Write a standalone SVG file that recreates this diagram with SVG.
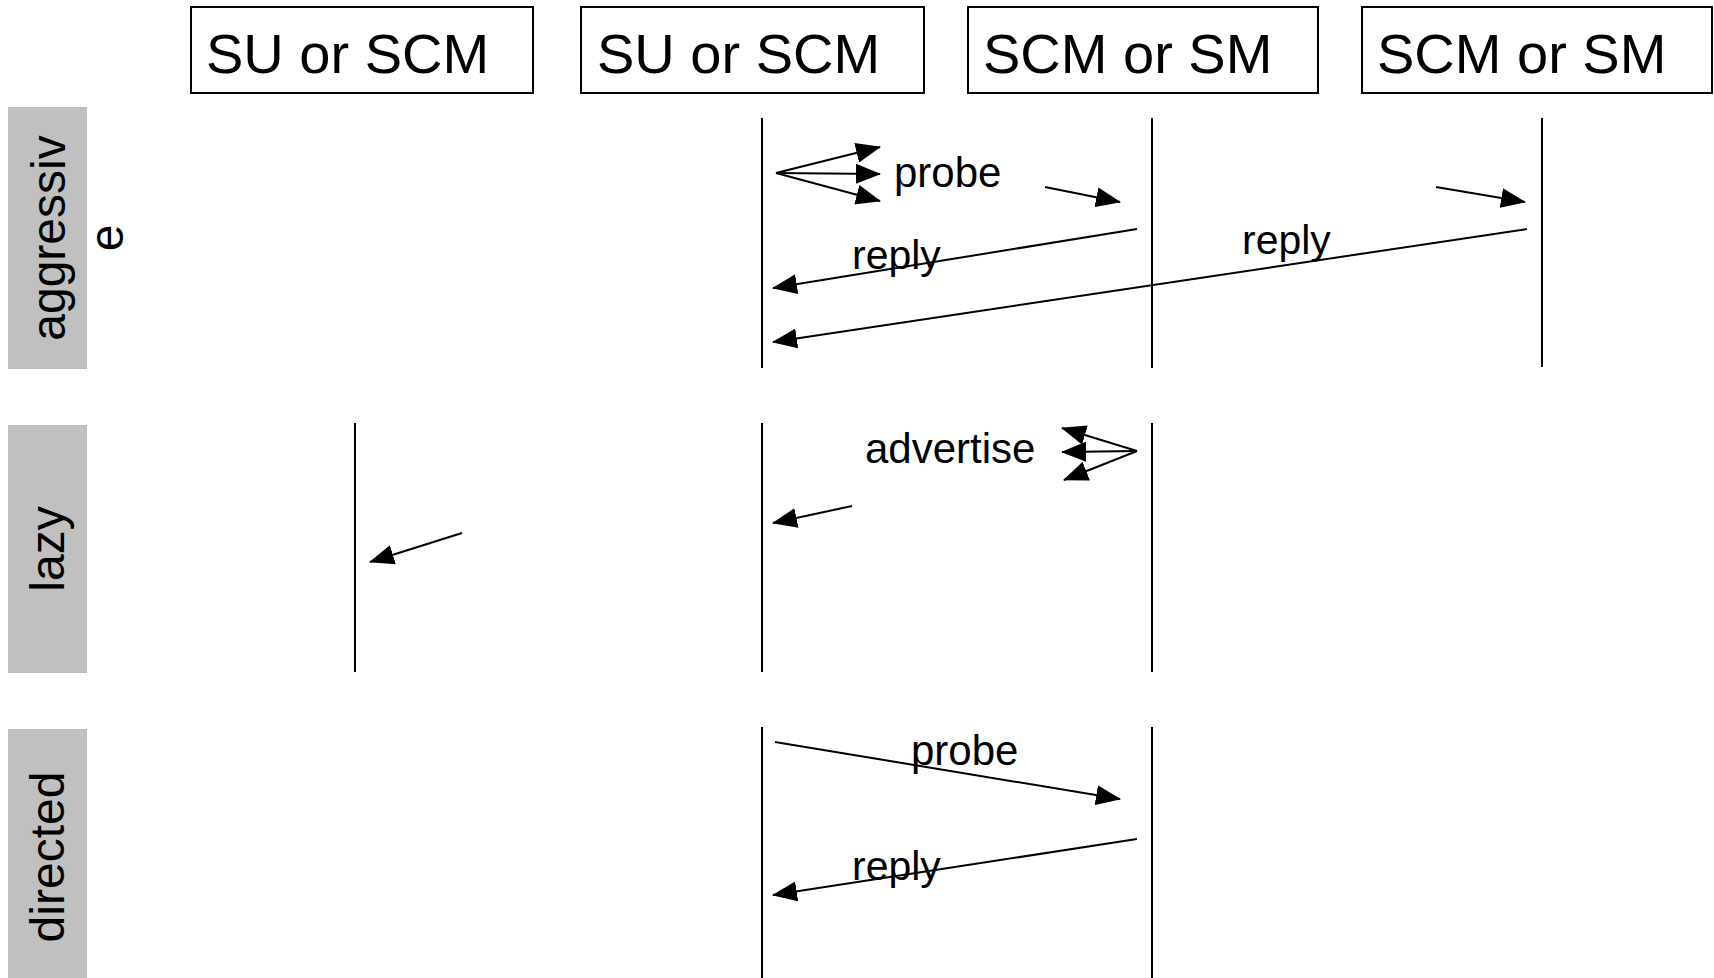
<svg xmlns="http://www.w3.org/2000/svg" width="1714" height="978" viewBox="0 0 1714 978">
  <style>
    .box { fill: #ffffff; stroke: #000000; stroke-width: 2; }
    .hdr { font-family: "Liberation Sans", Arial, sans-serif; font-size: 56px; fill: #000000; }
    .band { fill: #c0c0c0; }
    .band-t { font-family: "Liberation Sans", Arial, sans-serif; font-size: 48px; fill: #000000; text-anchor: middle; }
    .life { stroke: #000000; stroke-width: 2; fill: none; }
    .msg { stroke: #000000; stroke-width: 2; fill: none; marker-end: url(#ah); }
    .lbl { font-family: "Liberation Sans", Arial, sans-serif; font-size: 41px; fill: #000000; }
    .lbl-w { font-size: 42px; }
  </style>
  <defs>
    <marker id="ah" markerUnits="userSpaceOnUse" viewBox="0 0 25 20" refX="24" refY="10" markerWidth="25" markerHeight="20" orient="auto">
      <path d="M0,0 L25,10 L0,20 Z" fill="#000000"/>
    </marker>
  </defs>

  <rect width="1714" height="978" fill="#ffffff"/>

  <!-- scenario bands on the left -->
  <g id="band-aggressive">
    <rect class="band" x="8" y="107" width="79" height="262"/>
    <text class="band-t" transform="translate(65,238) rotate(-90)"><tspan x="0" y="0">aggressiv</tspan><tspan x="0" dy="58">e</tspan></text>
  </g>
  <g id="band-lazy">
    <rect class="band" x="8" y="425" width="79" height="248"/>
    <text class="band-t" transform="translate(64,549) rotate(-90)">lazy</text>
  </g>
  <g id="band-directed">
    <rect class="band" x="8" y="729" width="79" height="249"/>
    <text class="band-t" transform="translate(64,857) rotate(-90)">directed</text>
  </g>

  <!-- participants with their lifelines -->
  <g id="participant-1">
    <rect class="box" x="191" y="7" width="342" height="86"/>
    <text class="hdr" x="206" y="73">SU or SCM</text>
    <line class="life" x1="355" y1="423" x2="355" y2="672"/>
  </g>
  <g id="participant-2">
    <rect class="box" x="581" y="7" width="343" height="86"/>
    <text class="hdr" x="597" y="73">SU or SCM</text>
    <line class="life" x1="762" y1="118" x2="762" y2="368"/>
    <line class="life" x1="762" y1="423" x2="762" y2="672"/>
    <line class="life" x1="762" y1="727" x2="762" y2="978"/>
  </g>
  <g id="participant-3">
    <rect class="box" x="968" y="7" width="350" height="86"/>
    <text class="hdr" x="983" y="73">SCM or SM</text>
    <line class="life" x1="1152" y1="118" x2="1152" y2="368"/>
    <line class="life" x1="1152" y1="423" x2="1152" y2="672"/>
    <line class="life" x1="1152" y1="727" x2="1152" y2="978"/>
  </g>
  <g id="participant-4">
    <rect class="box" x="1362" y="7" width="350" height="86"/>
    <text class="hdr" x="1377" y="73">SCM or SM</text>
    <line class="life" x1="1542" y1="118" x2="1542" y2="367"/>
  </g>

  <!-- messages -->
  <g id="connectors">
    <!-- aggressive: probe fan-out and replies -->
    <line class="msg" x1="776" y1="173" x2="880" y2="147"/>
    <line class="msg" x1="776" y1="173" x2="880" y2="174"/>
    <line class="msg" x1="776" y1="173" x2="880" y2="201"/>
    <line class="msg" x1="1045" y1="187" x2="1120" y2="202"/>
    <line class="msg" x1="1436" y1="187" x2="1525" y2="202"/>
    <line class="msg" x1="1137" y1="229" x2="773" y2="288"/>
    <line class="msg" x1="1527" y1="229" x2="773" y2="342"/>
    <text class="lbl lbl-w" x="894" y="187">probe</text>
    <text class="lbl" x="852" y="269">reply</text>
    <text class="lbl" x="1242" y="254">reply</text>

    <!-- lazy: advertise fan-out -->
    <line class="msg" x1="1137" y1="451" x2="1062" y2="428"/>
    <line class="msg" x1="1137" y1="451" x2="1062" y2="452"/>
    <line class="msg" x1="1137" y1="451" x2="1064" y2="480"/>
    <line class="msg" x1="852" y1="506" x2="773" y2="523"/>
    <line class="msg" x1="462" y1="533" x2="370" y2="562"/>
    <text class="lbl lbl-w" x="865" y="463">advertise</text>

    <!-- directed: single probe and reply -->
    <line class="msg" x1="775" y1="742" x2="1120" y2="799"/>
    <line class="msg" x1="1137" y1="839" x2="773" y2="895"/>
    <text class="lbl lbl-w" x="911" y="765">probe</text>
    <text class="lbl" x="852" y="880">reply</text>
  </g>
</svg>
